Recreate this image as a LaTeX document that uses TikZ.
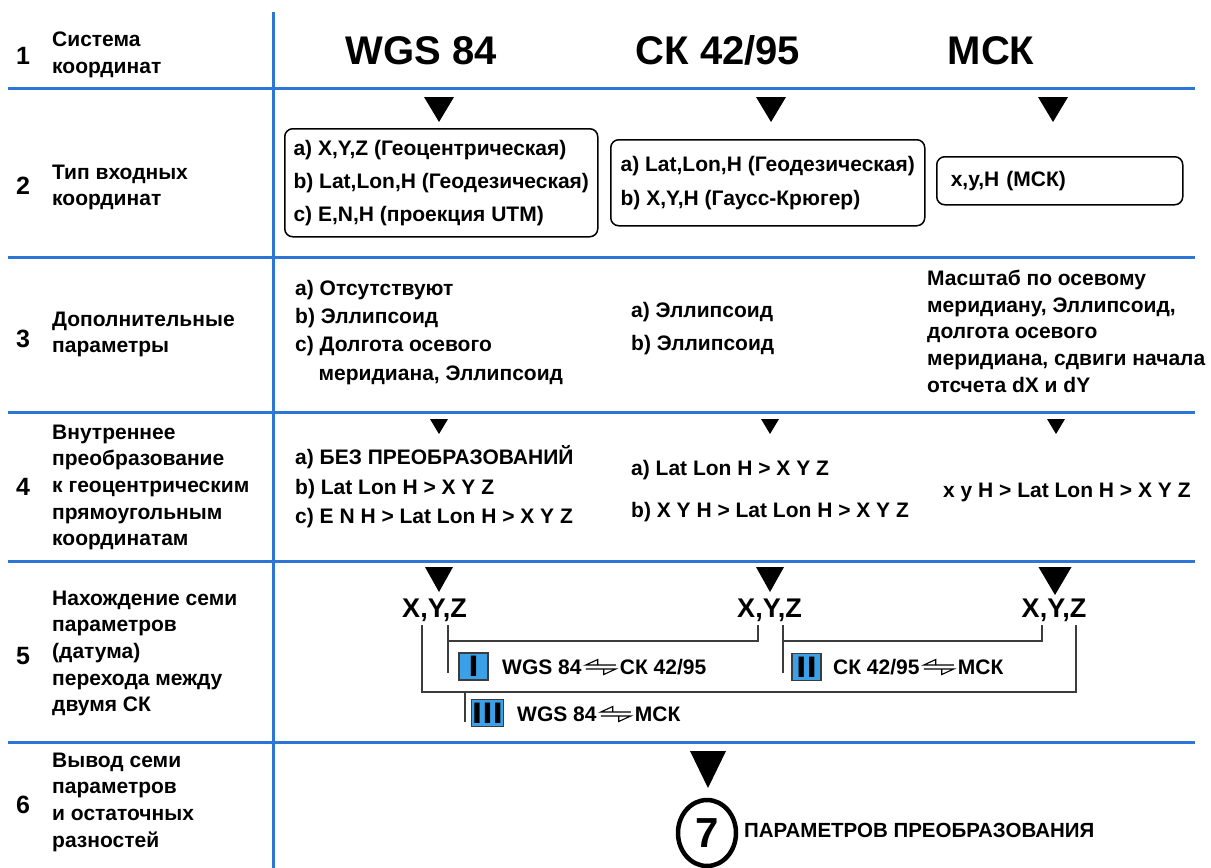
\documentclass[tikz,border=0pt]{standalone}
\usepackage{fontspec}
\setmainfont{Liberation Sans}
\newfontfamily\romfont{DejaVu Sans}
\usetikzlibrary{positioning,shapes.geometric}

\definecolor{gridblue}{RGB}{45,118,215}
\definecolor{keyblue}{RGB}{58,160,232}
\definecolor{wiregray}{RGB}{60,60,60}

% filled triangle pointing down: x, top y, width, height
\newcommand{\tridown}[4]{\fill (#1-#3/2,#2) -- (#1+#3/2,#2) -- (#1,#2+#4) -- cycle;}

\tikzset{
  sepline/.style={gridblue, line width=3pt},
  rownum/.style={font=\bfseries\fontsize{25}{25}\selectfont, inner sep=0pt},
  rowlbl/.style={font=\bfseries\fontsize{21}{26.6}\selectfont, align=left, anchor=north west, inner sep=0pt},
  head/.style={font=\bfseries\fontsize{40}{40}\selectfont, anchor=base, inner sep=0pt},
  body/.style={font=\bfseries\fontsize{21}{#1}\selectfont, align=left, anchor=north west, inner sep=0pt},
  inbox/.style={draw, line width=1.5pt, rounded corners=8pt, anchor=north west, align=left, inner sep=0pt},
  xyz/.style={font=\bfseries\fontsize{27}{27}\selectfont, anchor=base, inner sep=0pt},
  key/.style={draw=wiregray, fill=keyblue, line width=1.2pt, minimum width=29pt, minimum height=27pt, inner sep=0pt, font=\romfont\bfseries\fontsize{28}{28}\selectfont},
  trn/.style={font=\bfseries\fontsize{21}{21}\selectfont, inner sep=0pt},
  wire/.style={wiregray, line width=1.2pt},
  swap/.pic={
    \draw[line width=1.1pt, line join=miter] (30,-2) -- (0,-2) -- (12,-7.5) -- (12,-2);
    \draw[line width=1.1pt, line join=miter] (0,2) -- (30,2) -- (18,7.5) -- (18,2);
  }
}

\begin{document}
\begin{tikzpicture}[x=1pt, y=-1pt]
  \useasboundingbox (0,0) rectangle (1211,868);
  % table lines
  \draw[sepline] (273,12) -- (273,868);
  \foreach \y in {88,257,412,561,742}
    \draw[sepline] (8,\y) -- (1195,\y);

  % left column
  \foreach \n/\y in {1/56,2/186,3/339,4/487,5/656,6/805}
    \node[rownum] (num\n) at (23,\y) {\n};
  \node[rowlbl] (lbl1) at (52,31.7) {Система\\координат};
  \node[rowlbl] (lbl2) at (52,164.7) {Тип входных\\координат};
  \node[rowlbl] (lbl3) at (52,311.7) {Дополнительные\\параметры};
  \node[rowlbl] (lbl4) at (52,424.7) {Внутреннее\\преобразование\\к геоцентрическим\\прямоугольным\\координатам};
  \node[rowlbl] (lbl5) at (52,590.7) {Нахождение семи\\параметров\\(датума)\\перехода между\\двумя СК};
  \node[rowlbl] (lbl6) at (52,752.7) {Вывод семи\\параметров\\и остаточных\\разностей};

  % row 1
  \node[head] (wgs) at (421,64) {WGS 84};
  \node[head] (sk) at (718,64) {СК 42/95};
  \node[head] (msk) at (991,64) {МСК};

  % row 2
  \tridown{439}{97}{30}{25}
  \tridown{771}{97}{30}{25}
  \tridown{1053}{97}{30}{25}
  \node[inbox, minimum width=313pt, minimum height=108pt, font=\bfseries\fontsize{21}{33}\selectfont] (wgsin) at (284,128)
    {a) X,Y,Z (Геоцентрическая)\\b) Lat,Lon,H (Геодезическая)\\c) E,N,H (проекция UTM)};
  \node[inbox, minimum width=314pt, minimum height=86pt, font=\bfseries\fontsize{21}{34}\selectfont] (skin) at (610,139)
    {a) Lat,Lon,H (Геодезическая)\\b) X,Y,H (Гаусс-Крюгер)};
  \node[inbox, text width=218pt, inner xsep=14pt, minimum height=48pt, font=\bfseries\fontsize{21}{21}\selectfont] (mskin) at (936,156)
    {x,y,H (МСК)};

  % row 3
  \node[body=28.3] (wgspar) at (295,279.7)
    {a) Отсутствуют\\b) Эллипсоид\\c) Долгота осевого\\\hspace*{23.5pt}меридиана, Эллипсоид};
  \node[body=33] (skpar) at (631,301.7) {a) Эллипсоид\\b) Эллипсоид};
  \node[body=26.75] (mskpar) at (927,269.7)
    {Масштаб по осевому\\меридиану, Эллипсоид,\\долгота осевого\\меридиана, сдвиги начала\\отсчета dX и dY};

  % row 4
  \tridown{439}{419}{18}{15}
  \tridown{770}{419}{18}{15}
  \tridown{1056}{419}{18}{15}
  \node[body=29.5] (wgsconv) at (295,445.5)
    {a) БЕЗ ПРЕОБРАЗОВАНИЙ\\b) Lat Lon H > X Y Z\\c) E N H > Lat Lon H > X Y Z};
  \node[body=42] (skconv) at (631,459.7)
    {a) Lat Lon H > X Y Z\\b) X Y H > Lat Lon H > X Y Z};
  \node[trn, anchor=base west] (mskconv) at (943,497) {x y H > Lat Lon H > X Y Z};

  % row 5
  \tridown{439}{567}{28}{25}
  \tridown{770}{567}{28}{25}
  \tridown{1055}{567}{33}{28}
  \node[xyz] (xyzA) at (434.5,617) {X,Y,Z};
  \node[xyz] (xyzB) at (769.5,617) {X,Y,Z};
  \node[xyz] (xyzC) at (1054,617) {X,Y,Z};
  \coordinate (ax) at (422,625);
  \coordinate (az) at (448,625);
  \coordinate (by) at (758,625);
  \coordinate (bz) at (783,625);
  \coordinate (cy) at (1042,625);
  \coordinate (cz) at (1076,625);
  \draw[wire] (az) -- (448,673);
  \draw[wire] (448,641) -| (by);
  \draw[wire] (bz) -- (783,673);
  \draw[wire] (783,641) -| (cy);
  \draw[wire] (ax) -- (422,692) -| (cz);
  \draw[wire] (465,692) -- (465,722);
  \node[key] (k1) at (473.5,666.5) {I};
  \node[key] (k2) at (806.5,667) {II};
  \node[key] (k3) at (487.5,713) {III};
  \node[trn, anchor=west] (t1a) at (502,667) {WGS 84};
  \pic at ([xshift=4pt]t1a.east) {swap};
  \node[trn, right=38pt of t1a] (t1b) {СК 42/95};
  \node[trn, anchor=west] (t2a) at (833,667) {СК 42/95};
  \pic at ([xshift=4pt]t2a.east) {swap};
  \node[trn, right=38pt of t2a] (t2b) {МСК};
  \node[trn, anchor=west] (t3a) at (517,714) {WGS 84};
  \pic at ([xshift=4pt]t3a.east) {swap};
  \node[trn, right=38pt of t3a] (t3b) {МСК};

  % row 6
  \tridown{708}{751}{36}{37}
  \node[draw, ellipse, line width=4.5pt, minimum width=58pt, minimum height=66pt, inner sep=0pt,
        font=\bfseries\fontsize{42}{42}\selectfont] (seven) at (707,833) {7};
  \node[trn, font=\bfseries\fontsize{20.5}{20.5}\selectfont, anchor=west] (params) at (744,830) {ПАРАМЕТРОВ ПРЕОБРАЗОВАНИЯ};
\end{tikzpicture}
\end{document}
